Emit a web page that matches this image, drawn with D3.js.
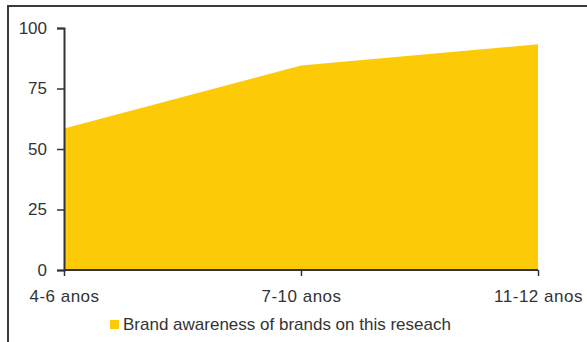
<!DOCTYPE html>
<html>
<head>
<meta charset="utf-8">
<script src="https://cdn.jsdelivr.net/npm/d3@7"></script>
<style>
  body { margin: 0; background: #fff; }
  text { font-family: "Liberation Sans", Arial, sans-serif; fill: #333; }
</style>
</head>
<body>
<script>
// chart data
var categories = ["4-6 anos", "7-10 anos", "11-12 anos"];
var values = [58.5, 84.5, 93.3];
var yTicks = [0, 25, 50, 75, 100];
var seriesName = "Brand awareness of brands on this reseach";

var W = 587, H = 342;
var margin = {top: 28, right: 49, bottom: 72, left: 64};

var svg = d3.select("body").append("svg")
    .attr("width", W)
    .attr("height", H);

// outer frame (top and left edges visible)
svg.append("rect")
    .attr("x", 8).attr("y", 6)
    .attr("width", W + 20).attr("height", H + 20)
    .attr("fill", "none")
    .attr("stroke", "#3a3a3a")
    .attr("stroke-width", 2);

var x = d3.scalePoint()
    .domain(categories)
    .range([margin.left, W - margin.right]);

var y = d3.scaleLinear()
    .domain([0, 100])
    .range([H - margin.bottom, margin.top]);

var data = categories.map(function(c, i) { return {cat: c, v: values[i]}; });

var area = d3.area()
    .x(function(d) { return x(d.cat); })
    .y0(y(0))
    .y1(function(d) { return y(d.v); });

svg.append("path")
    .datum(data)
    .attr("fill", "#fdca08")
    .attr("d", area);

// y axis
var yAxis = svg.append("g")
    .attr("transform", "translate(" + margin.left + ",0)")
    .call(d3.axisLeft(y).tickValues(yTicks).tickSize(7).tickPadding(10));
yAxis.select(".domain").attr("stroke", "#333").attr("stroke-width", 2);
yAxis.selectAll(".tick line").attr("stroke", "#333").attr("stroke-width", 1.5);
yAxis.selectAll("text").attr("font-size", 17).style("fill", "#333");

// x axis
var xAxis = svg.append("g")
    .attr("transform", "translate(0," + y(0) + ")")
    .call(d3.axisBottom(x).tickSize(6).tickPadding(14));
xAxis.select(".domain").attr("stroke", "#333").attr("stroke-width", 2)
    .attr("d", "M" + x.range()[0] + ",0H" + x.range()[1]);
xAxis.selectAll(".tick line").attr("stroke", "#333").attr("stroke-width", 1.5);
xAxis.selectAll("text").attr("font-size", 17)
    .attr("letter-spacing", 0.5).style("fill", "#333");

// legend
var legend = svg.append("g").attr("transform", "translate(110,320)");
legend.append("rect")
    .attr("width", 9).attr("height", 9)
    .attr("fill", "#fdca08");
legend.append("text")
    .attr("x", 13).attr("y", 10)
    .attr("font-size", 17)
    .text(seriesName);
</script>
</body>
</html>
